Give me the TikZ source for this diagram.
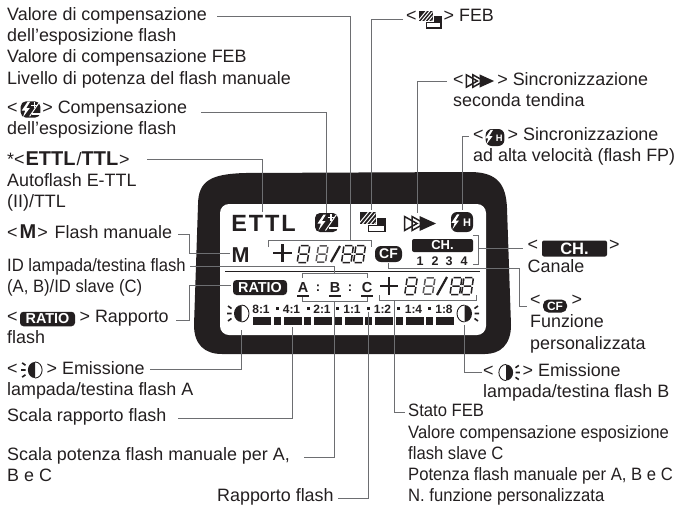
\documentclass[tikz,border=0pt]{standalone}
\usepackage{fontspec}
\setmainfont{Liberation Sans}
\definecolor{lcdblack}{HTML}{231F20}
\definecolor{leadergray}{HTML}{6D6E71}
\newcommand{\lblbig}[1]{{\bfseries\fontsize{20}{21.3}\selectfont #1}}
\newcommand{\lcdbf}[1]{\bfseries\fontsize{#1}{#1}\selectfont}
\tikzset{
  lbl/.style={anchor=north west, inner sep=0pt, yshift=14.91pt, align=left, text=lcdblack,
    font=\fontsize{17.9}{21.3}\selectfont},
  lblnarrow/.style={lbl, font={\fontsize{17.9}{21.3}\selectfont\addfontfeature{FakeStretch=.93}}},
  leader/.style={draw=leadergray, line width=1pt},
  badge/.style={fill=lcdblack, text=white, rounded corners=3.5pt, inner sep=0pt},
  lcdtext/.style={anchor=base, inner sep=0pt, text=lcdblack},
  boltshape/.pic={\fill[white] (-1,-8) -- (-7,1) -- (-3.5,1) -- (-6,8) -- (1,-1.5) -- (-2.5,-1.5) -- (1.5,-8) -- cycle;},
  flashcomp/.pic={
    \fill[lcdblack, rounded corners=5pt] (-11.5,-9.5) rectangle (11.5,9.5);
    \pic at (-2,0) {boltshape};
    \draw[white, line width=1.5pt] (1,-5) -- (8,-5) (4.5,-8.5) -- (4.5,-1.5);
    \draw[white, line width=1pt] (-1,8) -- (10,-8);
    \fill[white] (2,4) rectangle (11.5,6.5);
  },
  febicon/.pic={
    \draw[lcdblack, line width=1.4pt] (-4,-3) rectangle (12.5,9.5);
    \fill[lcdblack] (-4,-3) rectangle (12.5,3.5);
    \fill[white] (-13.5,-10.5) rectangle (4,3);
    \fill[lcdblack] (-13,-10) rectangle (3,2);
    \begin{scope}
      \clip (-13,-10) rectangle (3,2);
      \foreach \hx in {-14,-10,-6,-2,2}
        \draw[white, line width=1pt] (\hx,2) -- (\hx+10,-10);
    \end{scope}
  },
  curtainicon/.pic={
    \draw[lcdblack, line width=1.5pt] (-15.5,-7) -- (-3,0) -- (-15.5,7) -- cycle;
    \draw[lcdblack, line width=1.5pt] (-8,-7) -- (4.5,0) -- (-8,7) -- cycle;
    \fill[lcdblack] (-.5,-7.5) -- (16,0) -- (-.5,7.5) -- cycle;
  },
  hssicon/.pic={
    \fill[lcdblack, rounded corners=6pt] (-11,-10) rectangle (11,10);
    \pic[scale=.95] at (-4,0) {boltshape};
    \node[inner sep=0pt, text=white, font=\lcdbf{11}, transform shape] (hssh) at (5,1) {H};
  },
  lampicon/.pic={
    \fill[lcdblack] (0,-8.5) arc (90:270:7.5 and -8.5) -- cycle;
    \draw[lcdblack, line width=.9pt] (0,-8.5) arc (90:-90:7.5 and -8.5);
    \draw[lcdblack, line width=1.6pt] (-10,0) -- (-14.5,0) (-10,-5) -- (-13.5,-7.5) (-10,5) -- (-13.5,7.5);
  },
  digit/.pic={
    \draw[pic actions, xslant=.15, line width=1.5pt]
      (-3.8,-8.5) -- (3.8,-8.5) (-3.8,0) -- (3.8,0) (-3.8,8.5) -- (3.8,8.5)
      (-5,-7.5) -- (-5,-1) (-5,1) -- (-5,7.5) (5,-7.5) -- (5,-1) (5,1) -- (5,7.5);
  },
}
\begin{document}
\begin{tikzpicture}[x=1pt, y=-1pt]
\useasboundingbox (0,0) rectangle (678,507);
% frame
\fill[lcdblack] (198,205) .. controls (198,180) and (212,174) .. (245,173) -- (470,172)
  .. controls (498,172) and (506,185) .. (507,208) -- (511,325)
  .. controls (511,345) and (500,354) .. (485,354) -- (222,354)
  .. controls (205,354) and (194,345) .. (194,325) -- cycle;
\fill[white, rounded corners=9pt] (220,204) rectangle (486,335);
% display
\node[lcdtext, font={\lcdbf{23.5}\addfontfeature{LetterSpace=8}}] (ettl) at (263.5,231) {ETTL};
\pic at (326.5,222.5) {flashcomp};
\pic at (372.5,222) {febicon};
\pic at (420,223.5) {curtainicon};
\pic at (462,222) {hssicon};
\node[lcdtext, font=\lcdbf{21.5}] (mode) at (240.5,262) {M};
\draw[lcdblack, line width=2.2pt] (273,253) -- (292,253) (282.5,244) -- (282.5,262);
\pic[draw=lcdblack] at (303.5,254) {digit};
\pic[draw=lcdblack!75, scale=.95] at (322,254) {digit};
\draw[lcdblack, line width=2.2pt] (331,262) -- (340,246);
\foreach \dx in {347.5,359.5} \pic[draw=lcdblack, xscale=.95] at (\dx,254) {digit};
\node[badge, minimum width=27pt, minimum height=16pt, rounded corners=6pt, font=\lcdbf{14}] (cficon) at (388.5,254) {CF};
\node[badge, rounded corners=2pt, minimum width=61pt, minimum height=13pt, font=\lcdbf{13}] (chbar) at (442.5,245.5) {CH.};
\foreach \nx/\nn in {420/1,435/2,449/3,464/4}
  \node[lcdtext, font=\lcdbf{12.5}] (ch\nn) at (\nx,265) {\nn};
\draw[lcdblack, line width=1pt] (225,271) -- (480,271);
\node[badge, minimum width=54pt, minimum height=15pt, font=\lcdbf{14.4}] (ratio) at (260,287.5) {RATIO};
\foreach \lx/\ll in {303/A,335/B,367/C}{
  \node[lcdtext, font=\lcdbf{14.5}] (id\ll) at (\lx,292) {\ll};
  \draw[lcdblack, line width=1.8pt] (\lx-6,296) -- (\lx+6,296);
}
\foreach \cx/\cn in {318/a,350/b}
  \node[lcdtext, font=\lcdbf{13}] (colon\cn) at (\cx,291) {:};
\draw[lcdblack, line width=2.2pt] (380,286) -- (398,286) (389,277) -- (389,295);
\pic[draw=lcdblack] at (411,286) {digit};
\pic[draw=lcdblack!75, scale=.95] at (429,286) {digit};
\draw[lcdblack, line width=2.2pt] (437,295) -- (447,277);
\foreach \dx in {456,467.5} \pic[draw=lcdblack, xscale=.95] at (\dx,286) {digit};
\foreach \sx/\sn [count=\si] in {261/8:1,291.5/4:1,322/2:1,352/1:1,382.5/1:2,413.5/1:4,444/1:8}
  \node[lcdtext, font=\lcdbf{12}] (sc\si) at (\sx,313) {\sn};
\foreach \qx in {277,308.5,337.5,368,398,429}
  \fill[lcdblack] (\qx-1.5,306.5) rectangle (\qx+1.5,309.5);
\foreach \bx in {253,283.5,314,344.5,375,405.5,435.5}
  \fill[lcdblack] (\bx,317) rectangle (\bx+18,325);
\foreach \bx in {274,304,334.5,365,395.5,426}
  \fill[lcdblack] (\bx,317) rectangle (\bx+7,325);
\pic at (241.5,313.5) {lampicon};
\pic[xscale=-1] at (464.5,313.5) {lampicon};
% brackets
\draw[leader] (268,247) -- (268,240) -- (371,240) -- (371,247);
\draw[leader] (473,235) -- (478,235) -- (478,264) -- (473,264);
\draw[leader] (302,278) -- (302,273) -- (367,273) -- (367,278);
\draw[leader] (302,297) -- (302,301) -- (367,301) -- (367,297);
\draw[leader] (379,295) -- (379,300) -- (476,300) -- (476,295);
% labels
\node[lbl] (valore) at (7,22) {Valore di compensazione\\dell’esposizione flash\\Valore di compensazione FEB\\Livello di potenza del flash manuale};
\node[lbl] (compens) at (7,115) {<\hspace{24.7pt}> Compensazione\\dell’esposizione flash};
\pic[scale=.85] at (30.5,109.5) {flashcomp};
\node[lbl] (autoflash) at (7,166) {*<\hspace{1pt}\lblbig{ETTL}\hspace{1pt}/\lblbig{TTL}\hspace{1pt}>\\[.2pt]Autoflash E-TTL\\(II)/TTL};
\node[lbl] (manuale) at (7,239) {<\hspace{2pt}\lblbig{M}\hspace{1pt}>\hspace{2pt} Flash manuale};
\node[lblnarrow] (idlamp) at (7,273) {ID lampada/testina flash\\(A, B)/ID slave (C)};
\node[lbl] (rapporto) at (7,325) {<\hspace{62pt}> Rapporto\\flash};
\node[badge, minimum width=55pt, minimum height=14.5pt, font=\lcdbf{14.4}] (ratiolbl) at (47.5,319) {RATIO};
\node[lbl] (emissa) at (7,376) {<\hspace{29pt}> Emissione\\lampada/testina flash A};
\pic[scale=.95] at (35,370) {lampicon};
\node[lbl] (scalarap) at (7,423) {Scala rapporto flash};
\node[lbl] (scalapot) at (7,462) {Scala potenza flash manuale per A,\\B e C};
\node[lbl] (rapflash) at (217,503) {Rapporto flash};
\node[lbl] (feb) at (406,24) {<\hspace{27pt}> FEB};
\pic[scale=.88] at (430,19.5) {febicon};
\node[lbl] (seconda) at (453,87) {<\hspace{33.7pt}> Sincronizzazione\\seconda tendina};
\pic[scale=.88] at (480,81) {curtainicon};
\node[lbl] (alta) at (473,142) {<\hspace{24pt}> Sincronizzazione\\ad alta velocità (flash FP)};
\pic[scale=.85] at (495,137.5) {hssicon};
\node[lbl] (canale) at (527.5,255) {<\hspace{71pt}>\\Canale};
\node[badge, rounded corners=2pt, minimum width=65pt, minimum height=16pt, font=\lcdbf{16.5}] (chlbl) at (574.5,248.5) {CH.};
\node[lbl] (funzione) at (530,310) {<\hspace{31pt}>\\[.5pt]Funzione\\[.5pt]personalizzata};
\node[badge, minimum width=24pt, minimum height=13pt, rounded corners=5.5pt, font=\lcdbf{12}] (cflbl) at (555,306) {CF};
\node[lbl] (emissb) at (483,378) {<\hspace{29pt}> Emissione\\lampada/testina flash B};
\pic[xscale=-1, scale=.95] at (506,372.5) {lampicon};
\node[lblnarrow] (stato) at (408,419) {Stato FEB\\Valore compensazione esposizione\\flash slave C\\Potenza flash manuale per A, B e C\\N. funzione personalizzata};
% connectors
\coordinate (valoreend) at (217,16);
\coordinate (topbr) at (350,240);
\coordinate (compensend) at (201,112);
\coordinate (compicon) at (326,213);
\coordinate (autoend) at (147,159);
\coordinate (ettltop) at (262,212);
\coordinate (manend) at (178,234);
\coordinate (mleft) at (230,253);
\coordinate (febend) at (403,19);
\coordinate (febtop) at (371,210);
\coordinate (curtend) at (447,81);
\coordinate (curttop) at (417,213);
\coordinate (altaend) at (469,136);
\coordinate (hsstop) at (462,210);
\coordinate (chbr) at (478,248);
\coordinate (chend) at (523,248);
\coordinate (cfbot) at (388,263);
\coordinate (cfend) at (527,306);
\coordinate (idend) at (190,266);
\coordinate (idtop) at (334,273);
\coordinate (ratend) at (176,320);
\coordinate (ratleft) at (231,285);
\coordinate (lampabot) at (241,330);
\coordinate (emissaend) at (150,369);
\coordinate (lampbbot) at (464,325);
\coordinate (emissbend) at (482,372);
\coordinate (barbot) at (292,327);
\coordinate (scalaend) at (178,418);
\coordinate (idbot) at (334,301);
\coordinate (potend) at (304,457);
\coordinate (dotbot) at (368,312);
\coordinate (rapend) at (338,498);
\coordinate (statobr) at (394,300);
\coordinate (statoend) at (405,412);
\draw[leader] (valoreend) -| (topbr);
\draw[leader] (compensend) -| (compicon);
\draw[leader] (autoend) -| (ettltop);
\draw[leader] (manend) -- ++(11,0) |- (mleft);
\draw[leader] (febend) -| (febtop);
\draw[leader] (curtend) -| (curttop);
\draw[leader] (altaend) -| (hsstop);
\draw[leader] (chbr) -- (chend);
\draw[leader] (cfbot) -- ++(0,5) -| ++(131,38) -- (cfend);
\draw[leader] (idend) -| (idtop);
\draw[leader] (ratend) -- ++(13,0) |- (ratleft);
\draw[leader] (lampabot) |- (emissaend);
\draw[leader] (lampbbot) |- (emissbend);
\draw[leader] (barbot) |- (scalaend);
\draw[leader] (idbot) |- (potend);
\draw[leader] (dotbot) |- (rapend);
\draw[leader] (statobr) |- (statoend);
\end{tikzpicture}
\end{document}
